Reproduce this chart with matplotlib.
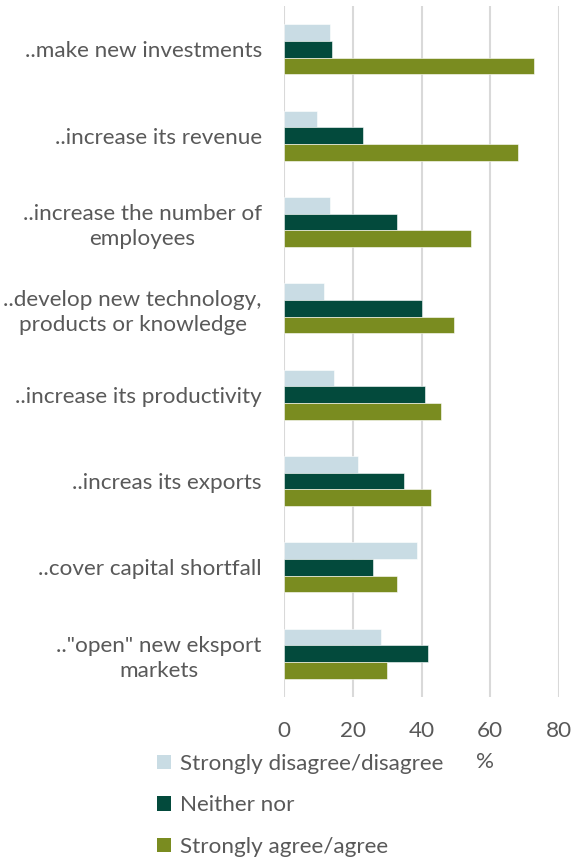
import matplotlib
matplotlib.use("Agg")
import matplotlib.pyplot as plt
import numpy as np
from matplotlib.patches import Patch

categories = [
    '..make new investments',
    '..increase its revenue',
    '..increase the number of\nemployees',
    '..develop new technology,\nproducts or knowledge',
    '..increase its productivity',
    '..increas its exports',
    '..cover capital shortfall',
    '.."open" new eksport\nmarkets',
]
disagree = [13.5, 9.7, 13.5, 11.7, 14.6, 21.4, 38.7, 28.2]
neither = [14.0, 22.9, 33.0, 40.0, 41.0, 35.0, 25.9, 41.9]
agree = [72.8, 68.0, 54.4, 49.5, 45.6, 42.7, 33.0, 30.0]
series_names = ['Strongly disagree/disagree', 'Neither nor', 'Strongly agree/agree']
xticks = [0, 20, 40, 60, 80]

colors = ['#C9DCE4', '#034A3C', '#7A8C20']
text_color = '#595959'
font = 'Lato'
fs = 16.2

W, H = 573, 865
fig = plt.figure(figsize=(W / 100, H / 100), dpi=100)
ax = fig.add_axes([284 / W, (H - 697) / H, (559 - 284) / W, (697 - 6) / H])

n = len(categories)
y = np.arange(n)
bh = 0.193
for i, (vals, c) in enumerate(zip([disagree, neither, agree], colors)):
    ax.barh(y + (i - 1) * bh, vals, height=bh, color=c, edgecolor='white', linewidth=0.4,
            label=series_names[i], zorder=3)

ax.set_ylim(n - 0.5, -0.5)
ax.set_xlim(0, 80)
ax.set_xticks(xticks)
ax.set_xticklabels([str(v) for v in xticks], fontsize=fs, color=text_color, family=font)
ax.tick_params(axis='x', length=0, pad=17)
ax.set_yticks(y)
ax.set_yticklabels(categories, fontsize=fs, color=text_color, family=font,
                   multialignment='center', linespacing=1.3)
ax.tick_params(axis='y', length=0, pad=16)
ax.grid(axis='x', color='#D9D9D9', linewidth=1.5, zorder=0)
for s in ax.spines.values():
    s.set_visible(False)

handles = [Patch(facecolor=c, edgecolor='none') for c in colors]
leg = fig.legend(handles, series_names, loc='upper left',
                 bbox_to_anchor=(148 / W, 1 - 745 / H), frameon=False,
                 prop={'family': font, 'size': fs}, labelcolor=text_color,
                 handlelength=0.62, handleheight=0.62, handletextpad=0.4,
                 labelspacing=0.95, borderaxespad=0)

fig.text(485 / W, 1 - 762 / H, '%', fontsize=fs, color=text_color, family=font,
         ha='center', va='center')

fig.savefig('out.png', dpi=100)
